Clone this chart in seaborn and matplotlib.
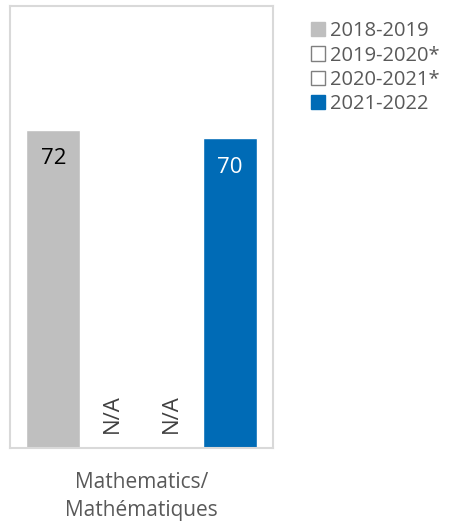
import numpy as np
import pandas as pd
import seaborn as sns
import matplotlib.pyplot as plt
from matplotlib.patches import Patch

sns.set_theme(style="white")
plt.rcParams['font.family'] = ['Open Sans', 'DejaVu Sans']

# data
years = ["2018-2019", "2019-2020*", "2020-2021*", "2021-2022"]
values = [72, np.nan, np.nan, 70]   # NaN = N/A
subject = ["Mathematics/\nMathématiques"] * 4
colors = ["#bfbfbf", "#ffffff", "#ffffff", "#006bb6"]

df = pd.DataFrame({"subject": subject, "year": years, "value": values})
df["bar"] = df["value"].fillna(0)

fig = plt.figure(figsize=(4.49, 5.22), dpi=100)
ax = fig.add_axes([0.0223, 0.1418, 0.586, 0.847])

sns.barplot(data=df, x="subject", y="bar", hue="year", hue_order=years,
            palette=colors, width=0.8, gap=0.08, saturation=1,
            legend=False, ax=ax)

ax.set_ylim(0, 100)
ax.set_xlim(-0.4475, 0.4475)
ax.set_yticks([])
ax.set_xlabel("")
ax.set_ylabel("")
ax.tick_params(axis="x", length=0, pad=17, labelsize=15, labelcolor="#595959")
for lab in ax.get_xticklabels():
    lab.set_linespacing(1.45)
for s in ax.spines.values():
    s.set_color("#d9d9d9")
    s.set_linewidth(1.5)

# labels inside bars / N/A markers
for p, v, yr in zip(ax.patches, values, years):
    cx = p.get_x() + p.get_width() / 2
    if np.isnan(v):
        ax.text(cx, 3.3, "N/A", rotation=90, ha="center", va="bottom",
                fontsize=16, color="#404040")
    else:
        tc = "white" if yr == "2021-2022" else "black"
        ax.text(cx, v - 6.5, f"{v:.0f}", ha="center", va="center",
                fontsize=16, color=tc)

handles = [
    Patch(facecolor="#bfbfbf", edgecolor="#bfbfbf", label=years[0]),
    Patch(facecolor="white", edgecolor="#7f7f7f", linewidth=1, label=years[1]),
    Patch(facecolor="white", edgecolor="#7f7f7f", linewidth=1, label=years[2]),
    Patch(facecolor="#006bb6", edgecolor="#006bb6", label=years[3]),
]
fig.legend(handles=handles, loc="upper left", bbox_to_anchor=(0.674, 0.975),
           frameon=False, fontsize=14.5, labelcolor="#595959",
           handlelength=0.7, handleheight=0.7, handletextpad=0.25,
           labelspacing=0.22, borderaxespad=0)

fig.savefig("out.png", dpi=100)
